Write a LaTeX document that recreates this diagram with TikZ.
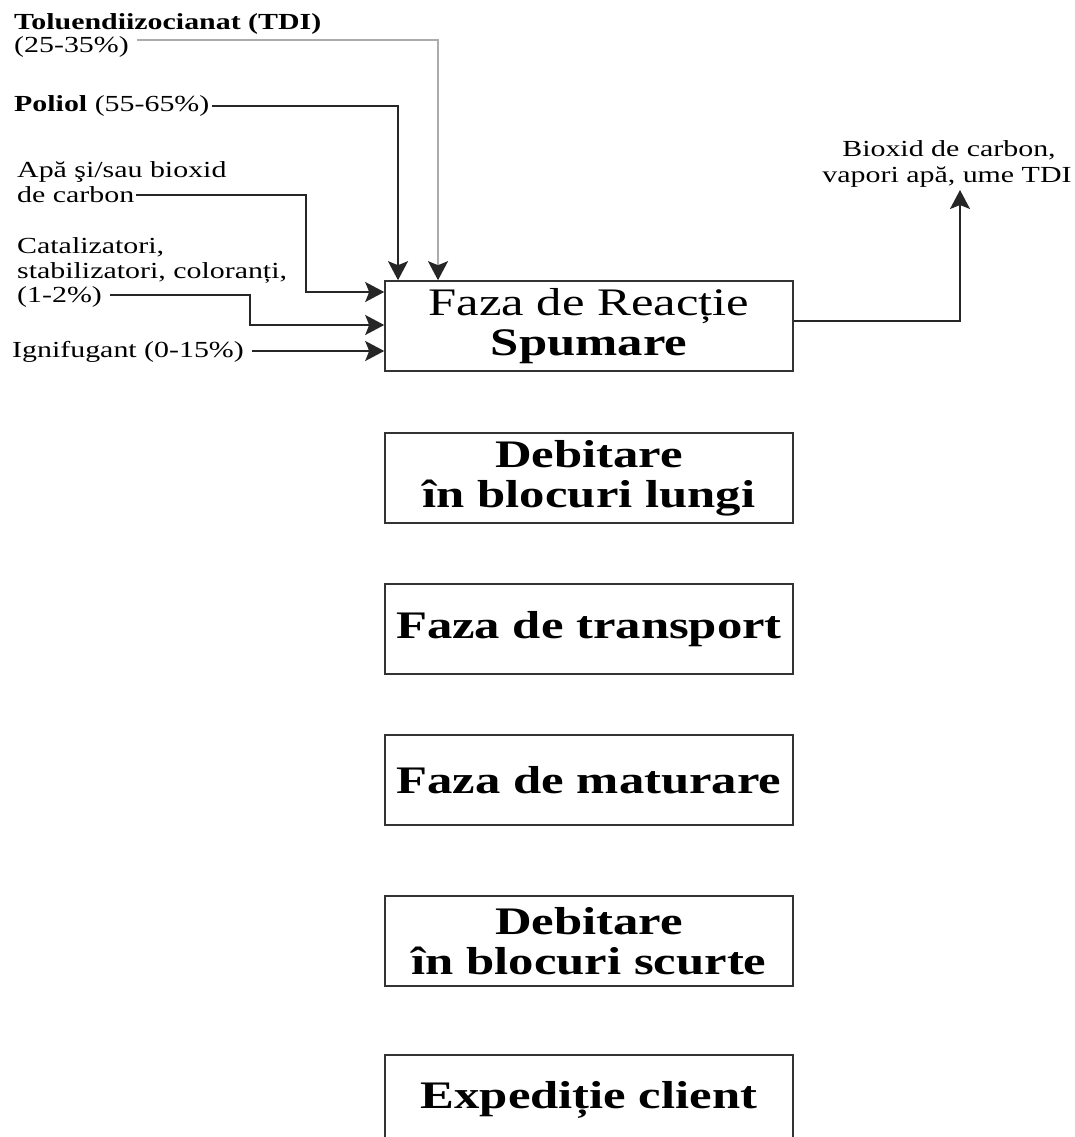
\documentclass[tikz,border=0pt]{standalone}
\usepackage{fontspec}
\setmainfont{Liberation Serif}
\newfontfamily\boxfont[FakeStretch=1.3]{Liberation Serif}
\newfontfamily\labfont[FakeStretch=1.3]{Liberation Serif}
\usetikzlibrary{arrows.meta}

\tikzset{
  stage/.style={draw=black!80, line width=1.6pt, minimum width=408pt,
    minimum height=90pt, inner sep=0pt, align=center,
    font=\boxfont\fontsize{39}{40}\selectfont},
  lab/.style={anchor=base west, inner sep=0pt,
    font=\labfont\fontsize{23}{25}\selectfont},
  outlab/.style={anchor=base, inner sep=0pt,
    font=\labfont\fontsize{23}{25}\selectfont},
  feed/.style={line width=1.8pt, draw=black!85,
    -{Stealth[length=19pt, width=20pt, inset=4pt, color=black!85]}},
  grayfeed/.style={feed, draw=gray!65},
}

\begin{document}
\begin{tikzpicture}[x=1pt, y={(0pt,-1pt)}]
  \useasboundingbox (0,0) rectangle (1075,1137);
  \clip (0,0) rectangle (1075,1137);

  % process stages
  \node[stage] (s1) at (589,326) {Faza de Reacție\\\textbf{Spumare}};
  \node[stage] (s2) at (589,478) {\textbf{Debitare}\\\textbf{în blocuri lungi}};
  \node[stage] (s3) at (589,629) {\textbf{Faza de transport}};
  \node[stage] (s4) at (589,780) {\textbf{Faza de maturare}};
  \node[stage] (s5) at (589,941) {\textbf{Debitare}\\\textbf{în blocuri scurte}};
  \node[stage, anchor=north] (s6) at (589,1054) {\raisebox{8pt}{\textbf{Expediție client}}};

  % raw materials
  \node[lab] (tdiA) at (14,30) {\textbf{Toluendiizocianat (TDI)}};
  \node[lab] (tdiB) at (14,53) {(25-35\%)};
  \node[lab] (pol)  at (14,112) {\textbf{Poliol} (55-65\%)};
  \node[lab] (apaA) at (17,177) {Apă şi/sau bioxid};
  \node[lab] (apaB) at (17,202) {de carbon};
  \node[lab] (catA) at (17,253) {Catalizatori,};
  \node[lab] (catB) at (17,278) {stabilizatori, coloranți,};
  \node[lab] (catC) at (17,302) {(1-2\%)};
  \node[lab] (ign)  at (12,357) {Ignifugant (0-15\%)};

  % bend points of the feed lines
  \coordinate (tdiBend) at (438,40);
  \coordinate (polBend) at (398,106);
  \coordinate (apaBend1) at (306,195);
  \coordinate (apaBend2) at (306,292);
  \coordinate (catBend1) at (250,295);
  \coordinate (catBend2) at (250,325);
  \coordinate (ignLine) at (0,351);

  \draw[grayfeed] ([xshift=8pt]tdiB.east |- tdiBend) -- (tdiBend) -- (tdiBend |- s1.north);
  \draw[feed] ([xshift=2pt]pol.east |- polBend) -- (polBend) -- (polBend |- s1.north);
  \draw[feed] ([xshift=2pt]apaB.east |- apaBend1) -- (apaBend1) -- (apaBend2) -- (apaBend2 -| s1.west);
  \draw[feed] ([xshift=8pt]catC.east |- catBend1) -- (catBend1) -- (catBend2) -- (catBend2 -| s1.west);
  \draw[feed] ([xshift=8pt]ign.east |- ignLine) -- (ignLine -| s1.west);

  % emissions
  \node[outlab] (outA) at (949,157) {Bioxid de carbon,};
  \node[outlab] (outB) at (947,182) {vapori apă, ume TDI};
  \coordinate (outBend) at (960,321);
  \coordinate (outTip) at (960,190);
  \draw[feed] (s1.east |- outBend) -- (outBend) -- (outTip);
\end{tikzpicture}
\end{document}
